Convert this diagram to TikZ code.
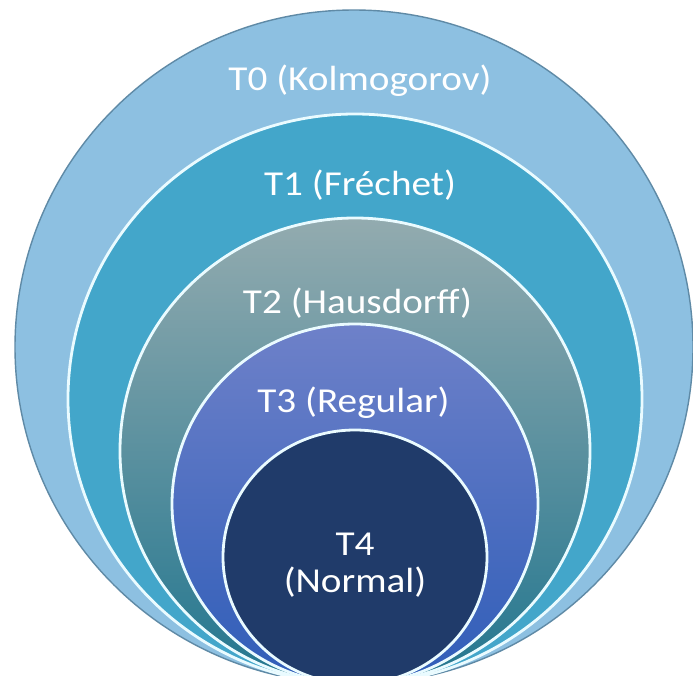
\documentclass[tikz,border=0pt]{standalone}
\usepackage{fontspec}
\newfontfamily\lab{Carlito}[FakeStretch=1.12]
\definecolor{czero}{HTML}{8DC0E1}
\definecolor{czeroedge}{HTML}{5F8AA6}
\definecolor{cone}{HTML}{43A6CA}
\definecolor{ctwotop}{HTML}{93ABAF}
\definecolor{ctwobot}{HTML}{22768F}
\definecolor{cthreetop}{HTML}{6E81C9}
\definecolor{cthreebot}{HTML}{2F5DB8}
\definecolor{cfour}{HTML}{203B6A}
\definecolor{ring}{HTML}{EAFBFF}
\tikzset{
  ringline/.style={draw=ring, line width=2.8pt},
  lbl/.style={text=white, inner sep=0pt, anchor=base, font=\lab\fontsize{35}{38}\selectfont}
}
\begin{document}
\begin{tikzpicture}[x=1pt,y=-1pt]
\useasboundingbox (0,0) rectangle (693,675);
\fill[white] (0,0) rectangle (693,675);
\clip (0,0) rectangle (693,675);
% T0
\path[fill=czero, draw=czeroedge, line width=1.4pt] (354,347) ellipse [x radius=339, y radius=337];
% T1
\path[fill=cone, ringline] (355,399) ellipse [x radius=287, y radius=285];
% T2
\path[top color=ctwotop, bottom color=ctwobot, ringline] (355,451) ellipse [x radius=235, y radius=233];
% T3
\path[top color=cthreetop, bottom color=cthreebot, ringline] (355,504) ellipse [x radius=183, y radius=180];
% T4
\path[fill=cfour, ringline] (355,557) ellipse [x radius=132, y radius=127];
% labels
\node[lbl] (t0) at (360,90) {T0 (Kolmogorov)};
\node[lbl] (t1) at (360,195) {T1 (Fréchet)};
\node[lbl] (t2) at (357.5,313) {T2 (Hausdorff)};
\node[lbl] (t3) at (353.5,412) {T3 (Regular)};
\node[lbl] (t4) at (355,555) {T4};
\node[lbl] (t4n) at (355,592) {(Normal)};
\end{tikzpicture}
\end{document}
